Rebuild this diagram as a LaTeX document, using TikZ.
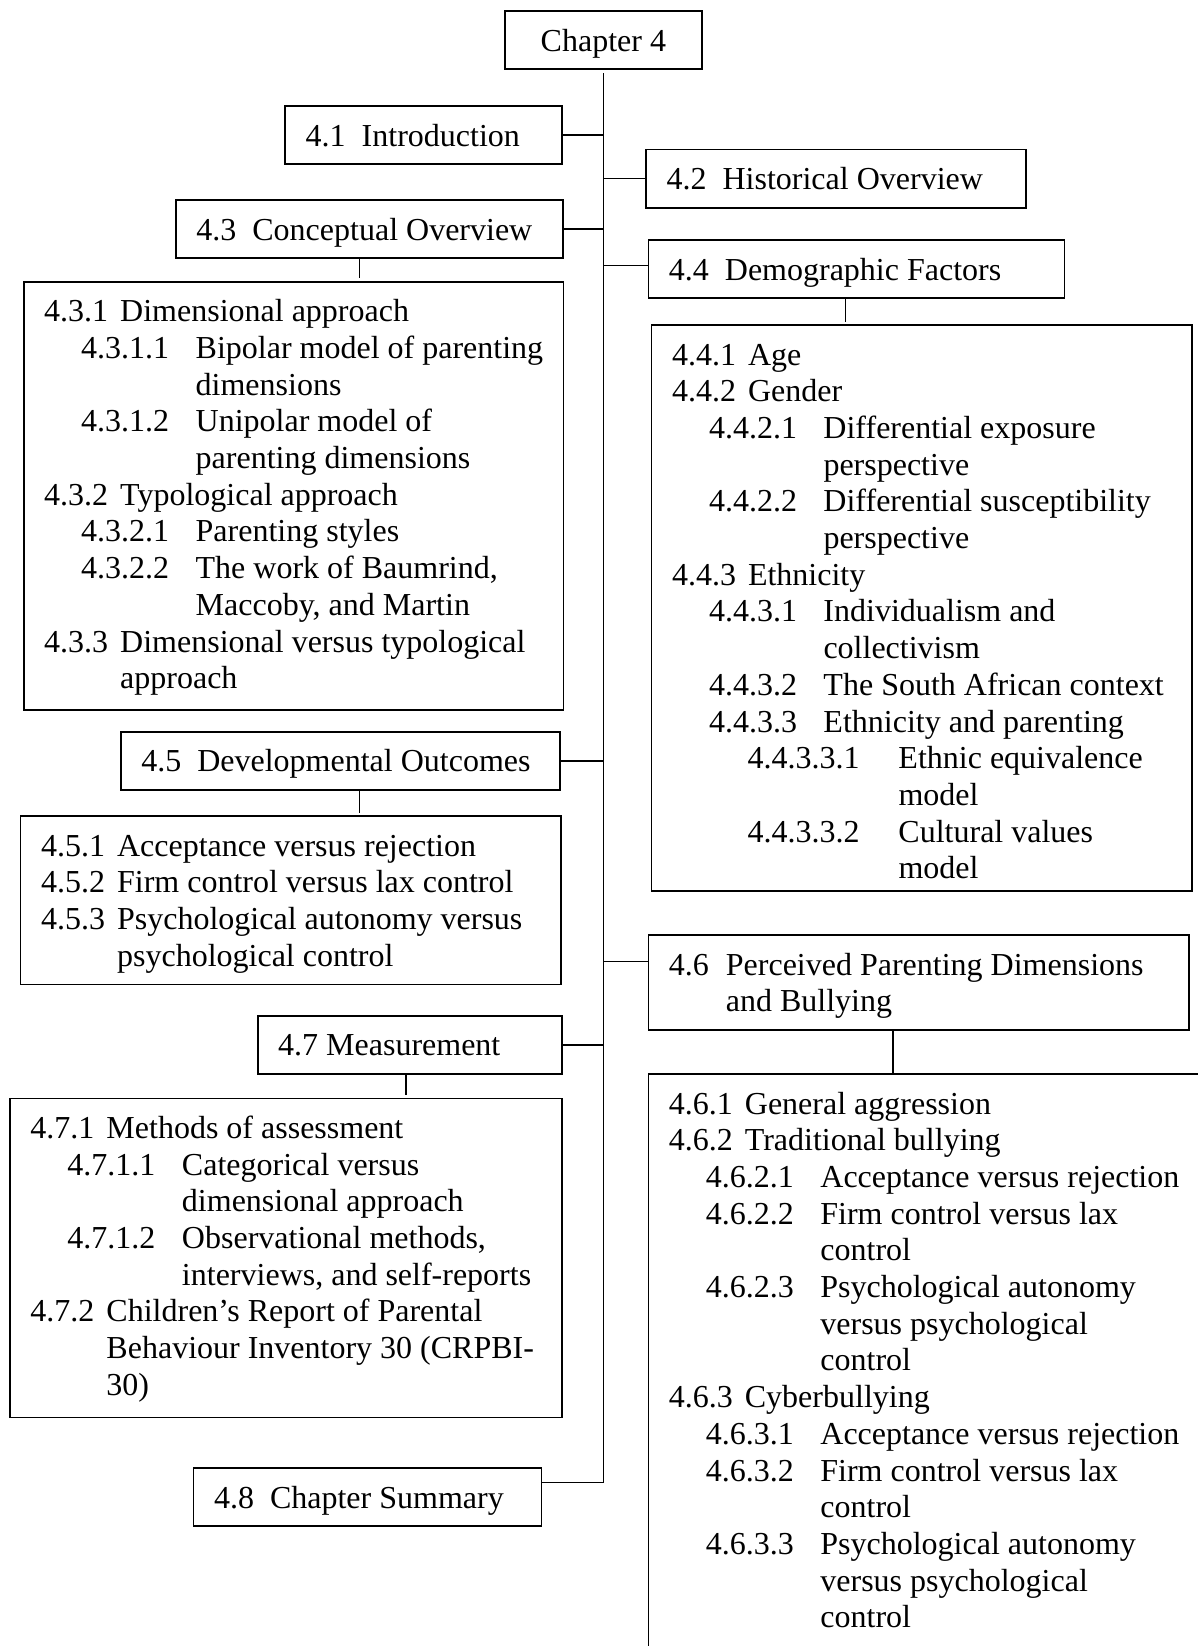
\documentclass[tikz,border=0pt]{standalone}
\usepackage{fontspec}
\setmainfont{Liberation Serif}
\usetikzlibrary{calc}

% one drawing unit = 0.5pt
\newdimen\pxu \pxu=0.5pt

% outline entry: number indent, label column, number, text (lines split with \\)
\newcommand\itm[4]{\noindent\hangindent=#2\pxu\hangafter=1\relax
  \hspace*{#1\pxu}\makebox[\dimexpr#2\pxu-#1\pxu\relax][l]{#3}\ignorespaces#4\par}
\newcommand\lA[2]{\itm{0}{76}{#1}{#2}}
\newcommand\lB[2]{\itm{37}{151.5}{#1}{#2}}
\newcommand\lC[2]{\itm{75.5}{226.5}{#1}{#2}}
\newcommand\lst[1]{\begin{minipage}[t]{300pt}#1\end{minipage}}

% framed box from corner (x1,y1) to corner (x2,y2)
\newcommand\frm[5]{\node[frame, minimum width={(#4-#2)*0.5pt},
  minimum height={(#5-#3)*0.5pt}] (#1) at (#2,#3) {};}

\begin{document}
\begin{tikzpicture}[x=0.5pt,y=-0.5pt,
  frame/.style={draw, line width=0.8pt, anchor=north west, inner sep=0pt, outer sep=0pt},
  link/.style={line width=0.7pt},
  txt/.style={anchor=base west, inner sep=0pt, outer sep=0pt,
    font=\fontsize{16pt}{18.35pt}\selectfont}]
\useasboundingbox (0,0) rectangle (1198,1646);
\begin{scope}
\clip (0,0) rectangle (1198,1646);

% ---- boxes ----
\frm{ch}{504.7}{11}{702}{69}
\frm{n41}{285.2}{106}{562}{164}
\frm{n42}{646.1}{149.3}{1026.2}{207.7}
\frm{n43}{175.9}{200}{562.8}{258}
\frm{n43s}{23.7}{281.7}{563.5}{710}
\frm{n44}{648.4}{240}{1064.4}{298}
\frm{n44s}{651.5}{325}{1191.7}{891}
\frm{n45}{120.8}{731.7}{559.7}{790}
\frm{n45s}{20.6}{816}{561.2}{984.3}
\frm{n46}{648.4}{935}{1189}{1030}
\frm{n46s}{648.4}{1074}{1230}{1680}
\frm{n47}{257.7}{1015.7}{562}{1074}
\frm{n47s}{10}{1098.3}{562}{1417.3}
\frm{n48}{193.5}{1468}{541.4}{1526}

% ---- headings ----
\node[txt, anchor=base] (tch) at ($(ch.north)+(0,40)$) {Chapter 4};
\node[txt] (t41) at ($(n41.north west)+(20.5,40)$) {4.1\ \ Introduction};
\node[txt] (t42) at ($(n42.north west)+(20.5,40)$) {4.2\ \ Historical Overview};
\node[txt] (t43) at ($(n43.north west)+(20.5,40)$) {4.3\ \ Conceptual Overview};
\node[txt] (t44) at ($(n44.north west)+(20.5,40)$) {4.4\ \ Demographic Factors};
\node[txt] (t45) at ($(n45.north west)+(20.5,40)$) {4.5\ \ Developmental Outcomes};
\node[txt] (t46) at ($(n46.north west)+(20.5,40)$)
  {\lst{\itm{0}{57}{4.6}{Perceived Parenting Dimensions\\and Bullying}}};
\node[txt] (t47) at ($(n47.north west)+(20.5,40)$) {4.7 Measurement};
\node[txt] (t48) at ($(n48.north west)+(20.5,40)$) {4.8\ \ Chapter Summary};

% ---- section contents ----
\node[txt] (t43s) at ($(n43s.north west)+(20.5,40)$) {\lst{%
  \lA{4.3.1}{Dimensional approach}
  \lB{4.3.1.1}{Bipolar model of parenting\\dimensions}
  \lB{4.3.1.2}{Unipolar model of\\parenting dimensions}
  \lA{4.3.2}{Typological approach}
  \lB{4.3.2.1}{Parenting styles}
  \lB{4.3.2.2}{The work of Baumrind,\\Maccoby, and Martin}
  \lA{4.3.3}{Dimensional versus typological\\approach}}};

\node[txt] (t44s) at ($(n44s.north west)+(20.5,40)$) {\lst{%
  \lA{4.4.1}{Age}
  \lA{4.4.2}{Gender}
  \lB{4.4.2.1}{Differential exposure\\perspective}
  \lB{4.4.2.2}{Differential susceptibility\\perspective}
  \lA{4.4.3}{Ethnicity}
  \lB{4.4.3.1}{Individualism and\\collectivism}
  \lB{4.4.3.2}{The South African context}
  \lB{4.4.3.3}{Ethnicity and parenting}
  \lC{4.4.3.3.1}{Ethnic equivalence\\model}
  \lC{4.4.3.3.2}{Cultural values\\model}}};

\node[txt] (t45s) at ($(n45s.north west)+(20.5,40)$) {\lst{%
  \lA{4.5.1}{Acceptance versus rejection}
  \lA{4.5.2}{Firm control versus lax control}
  \lA{4.5.3}{Psychological autonomy versus\\psychological control}}};

\node[txt] (t46s) at ($(n46s.north west)+(20.5,40)$) {\lst{%
  \lA{4.6.1}{General aggression}
  \lA{4.6.2}{Traditional bullying}
  \lB{4.6.2.1}{Acceptance versus rejection}
  \lB{4.6.2.2}{Firm control versus lax\\control}
  \lB{4.6.2.3}{Psychological autonomy\\versus psychological\\control}
  \lA{4.6.3}{Cyberbullying}
  \lB{4.6.3.1}{Acceptance versus rejection}
  \lB{4.6.3.2}{Firm control versus lax\\control}
  \lB{4.6.3.3}{Psychological autonomy\\versus psychological\\control}}};

\node[txt] (t47s) at ($(n47s.north west)+(20.5,40)$) {\lst{%
  \lA{4.7.1}{Methods of assessment}
  \lB{4.7.1.1}{Categorical versus\\dimensional approach}
  \lB{4.7.1.2}{Observational methods,\\interviews, and self-reports}
  \lA{4.7.2}{Children’s Report of Parental\\Behaviour Inventory 30 (CRPBI-\\30)}}};

% ---- connectors ----
\coordinate (k48) at ($(n48.north east)+(0,14.3)$);
\draw[link, shorten <=2pt] (ch.south) |- (k48);

\draw[link] (n41.east) -- (n41.east -| ch.south);
\draw[link] (n42.west) -- (n42.west -| ch.south);
\draw[link] (n43.east) -- (n43.east -| ch.south);
\coordinate (j44) at ($(n44.north west)+(0,25.7)$);
\draw[link] (j44) -- (j44 -| ch.south);
\draw[link] (n45.east) -- (n45.east -| ch.south);
\coordinate (j46) at ($(n46.north west)+(0,26.7)$);
\draw[link] (j46) -- (j46 -| ch.south);
\draw[link] (n47.east) -- (n47.east -| ch.south);

\coordinate (k43) at ($(n43.south west)+(183.5,0)$);
\draw[link, shorten >=2pt] (k43) -- (k43 |- n43s.north);
\coordinate (k44) at ($(n44.south west)+(197.3,0)$);
\draw[link, shorten >=1.5pt] (k44) -- (k44 |- n44s.north);
\coordinate (k45) at ($(n45.south west)+(238.6,0)$);
\draw[link, shorten >=1.4pt] (k45) -- (k45 |- n45s.north);
\coordinate (k46) at ($(n46.south west)+(244.6,0)$);
\draw[link] (k46) -- (k46 |- n46s.north);
\coordinate (k47) at ($(n47.south west)+(148.3,0)$);
\draw[link, shorten >=1.6pt] (k47) -- (k47 |- n47s.north);
\end{scope}
\end{tikzpicture}
\end{document}
